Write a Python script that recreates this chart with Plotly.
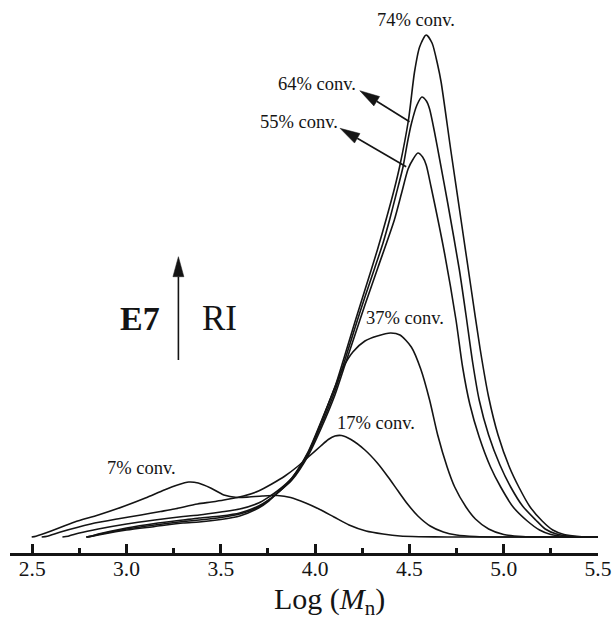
import plotly.graph_objects as go

# GPC traces (RI detector response vs. log molecular weight) at increasing conversion
logm_7 = [2.497, 2.52, 2.60, 2.725, 2.85, 2.99, 3.10, 3.20, 3.27, 3.33, 3.38, 3.446, 3.516, 3.587,
          3.65, 3.72, 3.80, 3.87, 3.95, 4.02, 4.10, 4.18, 4.27, 4.36, 4.45, 4.55, 4.70, 5.00, 5.50]
ri_7 = [0, 0.8, 6, 15, 22, 31, 39, 47, 52, 55, 54, 49, 42, 39.5,
        40, 41, 41.5, 39.5, 34, 28, 20, 12, 6, 3, 1, 0.3, 0, 0, 0]

logm_17 = [2.55, 2.58, 2.65, 2.81, 2.95, 3.077, 3.18, 3.253, 3.376, 3.45, 3.516, 3.62, 3.70, 3.77,
           3.84, 3.91, 3.97, 4.03, 4.07, 4.105, 4.14, 4.19, 4.264, 4.33, 4.387, 4.44, 4.49, 4.545,
           4.61, 4.68, 4.75, 4.85, 5.00, 5.50]
ri_17 = [0, 0.8, 5, 13, 18, 22, 25.5, 28, 33, 35, 37, 41, 46, 53,
         61, 71, 81, 91, 97.5, 101, 101.5, 97.5, 87, 74, 60, 46, 33, 21,
         11, 5, 2, 0.5, 0, 0]

logm_37 = [2.66, 2.69, 2.75, 2.85, 3.00, 3.15, 3.30, 3.385, 3.50, 3.60, 3.70, 3.754, 3.80, 3.877,
           3.965, 4.035, 4.105, 4.15, 4.20, 4.264, 4.33, 4.40, 4.45, 4.51, 4.56, 4.607, 4.65,
           4.70, 4.74, 4.80, 4.85, 4.92, 5.00, 5.10, 5.20, 5.50]
ri_37 = [0, 0.8, 4, 8, 13, 17, 20.5, 22, 25, 28, 34, 40, 46, 59,
         85, 116, 150, 170, 185, 196, 201, 204, 202, 190, 168, 137, 102,
         70, 50, 30, 18, 8, 2.5, 0.5, 0, 0]

logm_55 = [2.787, 2.81, 2.85, 3.00, 3.15, 3.30, 3.385, 3.50, 3.60, 3.70, 3.754, 3.80, 3.877, 3.965,
           4.035, 4.105, 4.158, 4.211, 4.264, 4.334, 4.42, 4.46, 4.493, 4.52, 4.545, 4.57, 4.589,
           4.615, 4.686, 4.747, 4.782, 4.82, 4.87, 4.93, 4.984, 5.05, 5.125, 5.19, 5.25, 5.32,
           5.40, 5.50]
ri_55 = [0, 0.7, 3, 9, 13.5, 17, 19, 21, 24, 31, 37, 44, 57, 82,
         110, 142, 172, 202, 232, 270, 317, 345, 368, 378, 384, 380, 372,
         350, 284, 217, 170, 133, 100, 70, 50, 30, 16, 7, 2.5, 0.5,
         0, 0]

logm_64 = [2.787, 2.81, 2.85, 3.00, 3.15, 3.30, 3.385, 3.50, 3.60, 3.70, 3.754, 3.80, 3.877, 3.965,
           4.035, 4.105, 4.158, 4.211, 4.264, 4.316, 4.36, 4.396, 4.43, 4.466, 4.49, 4.51, 4.54,
           4.566, 4.59, 4.607, 4.633, 4.66, 4.703, 4.765, 4.80, 4.835, 4.87, 4.92, 4.98, 5.037,
           5.10, 5.17, 5.22, 5.28, 5.35, 5.45, 5.50]
ri_64 = [0, 0.6, 2.5, 8, 12, 15.5, 17, 19.5, 23, 30, 37, 44, 58, 84,
         113, 146, 177, 209, 240, 269, 294, 318, 343, 370, 395, 413, 432,
         440, 436, 428, 405, 378, 334, 267, 222, 175, 137, 102, 72, 50,
         31, 17, 8, 3, 0.8, 0, 0]

logm_74 = [2.787, 2.81, 2.85, 3.00, 3.15, 3.30, 3.385, 3.50, 3.60, 3.70, 3.754, 3.80, 3.877, 3.965,
           4.035, 4.105, 4.158, 4.211, 4.264, 4.33, 4.38, 4.42, 4.45, 4.495, 4.527, 4.554, 4.589,
           4.62, 4.65, 4.668, 4.72, 4.773, 4.826, 4.875, 4.92, 4.97, 5.03, 5.08, 5.14, 5.204,
           5.26, 5.32, 5.40, 5.50]
ri_74 = [0, 0.5, 2, 7, 10.5, 14, 15, 17.5, 21, 29, 36, 44, 59, 86,
         117, 150, 182, 215, 247, 287, 320, 348, 372, 417, 465, 490, 502,
         494, 472, 455, 386, 318, 250, 188, 140, 102, 70, 50, 30, 16,
         7, 2.5, 0.5, 0]

series = [
    (logm_7, ri_7), (logm_17, ri_17), (logm_37, ri_37),
    (logm_55, ri_55), (logm_64, ri_64), (logm_74, ri_74),
]

# curve labels: (text, log M, RI)
conv_labels = [
    ("74% conv.", 4.534, 517),
    ("64% conv.", 4.012, 453),
    ("55% conv.", 3.912, 415),
    ("37% conv.", 4.475, 219),
    ("17% conv.", 4.323, 114),
    ("7% conv.", 3.079, 69),
]

# pointer arrows: (tail log M, tail RI, tip log M, tip RI)
pointer_arrows = [
    (4.501, 415.3, 4.237, 446.3),   # 64 % trace
    (4.483, 370.3, 4.132, 408.7),   # 55 % trace
    (3.275, 177.0, 3.275, 280.3),   # RI direction
]

x_ticks = [2.5, 3.0, 3.5, 4.0, 4.5, 5.0, 5.5]
x_tick_text = ["2.5", "3.0", "3.5", "4.0", "4.5", "5.0", "5.5"]
x_title = "Log (<i>M</i><sub>n</sub>)"

X_RANGE = [2.382, 5.5]
Y_RANGE = [-16, 532]
W, H = 616, 623
M_L, M_R, M_T, M_B = 10, 15, 5, 70
SERIF = "Liberation Serif, Times New Roman, serif"
INK = "#141414"

plot_w = W - M_L - M_R
plot_h = H - M_T - M_B
sx = plot_w / (X_RANGE[1] - X_RANGE[0])   # px per log-M unit
sy = plot_h / (Y_RANGE[1] - Y_RANGE[0])   # px per RI unit

fig = go.Figure()
for xs, ys in series:
    fig.add_trace(go.Scatter(
        x=xs, y=ys, mode="lines",
        line=dict(color=INK, width=1.6, shape="spline", smoothing=0.7),
        hoverinfo="skip", showlegend=False,
    ))

for text, xv, yv in conv_labels:
    fig.add_annotation(x=xv, y=yv, xref="x", yref="y", text=text, showarrow=False,
                       font=dict(family=SERIF, size=18.5, color=INK))

fig.add_annotation(x=3.069, y=219, xref="x", yref="y", text="<b>E7</b>", showarrow=False,
                   font=dict(family=SERIF, size=34, color=INK))
fig.add_annotation(x=3.491, y=219, xref="x", yref="y", text="RI", showarrow=False,
                   font=dict(family=SERIF, size=35, color=INK))

# axis title, set slightly right of the plot centre
fig.add_annotation(x=(331 - M_L) / plot_w, y=-(601 - (M_T + plot_h)) / plot_h,
                   xref="paper", yref="paper", xanchor="center", yanchor="middle",
                   text=x_title, showarrow=False,
                   font=dict(family=SERIF, size=30, color=INK))


def arrow_shapes(x0, y0, x1, y1, head_len=20, head_w=11, lw=1.6):
    """Shaft + filled triangular head, sized in screen pixels."""
    dx = (x1 - x0) * sx
    dy = (y1 - y0) * sy
    n = (dx * dx + dy * dy) ** 0.5
    ux, uy = dx / n, dy / n
    bx, by = x1 - head_len * ux / sx, y1 - head_len * uy / sy
    px, py = -uy, ux
    c1 = (bx + head_w / 2 * px / sx, by + head_w / 2 * py / sy)
    c2 = (bx - head_w / 2 * px / sx, by - head_w / 2 * py / sy)
    shaft = dict(type="line", xref="x", yref="y", x0=x0, y0=y0, x1=bx, y1=by,
                 line=dict(color=INK, width=lw))
    head = dict(type="path", xref="x", yref="y",
                path=f"M {x1},{y1} L {c1[0]},{c1[1]} L {c2[0]},{c2[1]} Z",
                fillcolor=INK, line=dict(color=INK, width=0.5))
    return [shaft, head]


shapes = []
for a in pointer_arrows:
    shapes += arrow_shapes(*a)

fig.update_layout(
    width=W, height=H,
    margin=dict(l=M_L, r=M_R, t=M_T, b=M_B),
    paper_bgcolor="white", plot_bgcolor="white",
    shapes=shapes,
    showlegend=False,
    xaxis=dict(
        range=X_RANGE, showgrid=False, zeroline=False,
        showline=True, linecolor=INK, linewidth=3,
        tickvals=x_ticks, ticktext=x_tick_text,
        ticks="inside", ticklen=9, tickwidth=2.5, tickcolor=INK,
        ticklabelstandoff=-6,
        tickfont=dict(family=SERIF, size=21.5, color=INK),
        minor=dict(dtick=0.25, tick0=2.5, ticks="inside", ticklen=5, tickwidth=2.5, tickcolor=INK),
    ),
    yaxis=dict(range=Y_RANGE, visible=False, showgrid=False, zeroline=False),
)

fig.write_html("out.html")
